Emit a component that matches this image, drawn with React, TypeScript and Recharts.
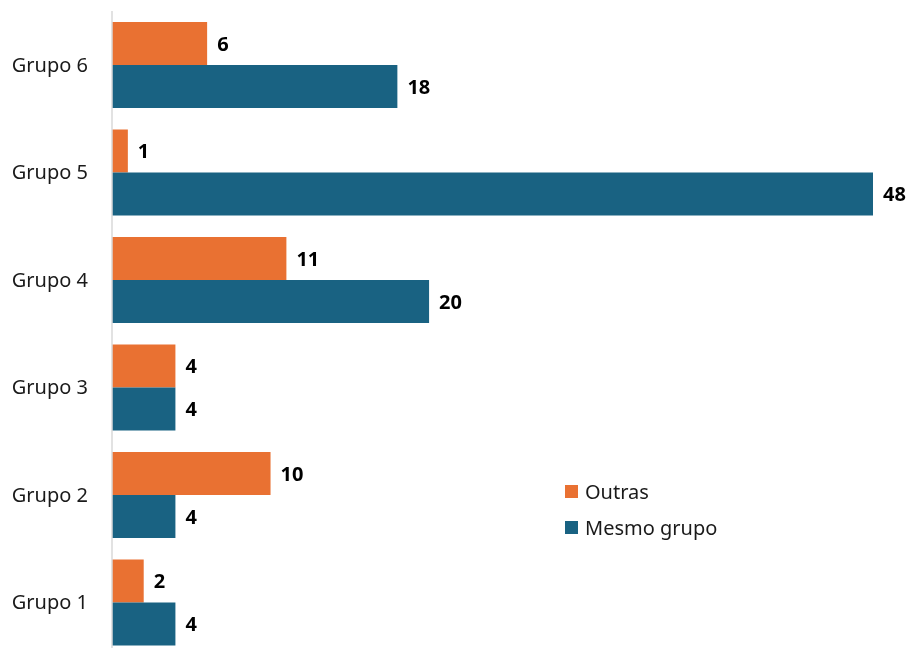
import { BarChart, Bar, XAxis, YAxis, LabelList } from "recharts";

const groups = ["Grupo 6", "Grupo 5", "Grupo 4", "Grupo 3", "Grupo 2", "Grupo 1"];
const outras = [6, 1, 11, 4, 10, 2];
const mesmoGrupo = [18, 48, 20, 4, 4, 4];

const ORANGE = "#E97132";
const BLUE = "#196282";
const FONT = "'Noto Sans', sans-serif";

const data = groups.map((g, i) => ({
  grupo: g,
  outras: outras[i],
  mesmo: mesmoGrupo[i],
}));

const legendItems = [
  { label: "Outras", color: ORANGE },
  { label: "Mesmo grupo", color: BLUE },
];

function LegendBox() {
  return (
    <div
      style={{
        position: "absolute",
        left: 557,
        top: 465,
        fontFamily: FONT,
        fontSize: 20,
        color: "#1a1a1a",
      }}
    >
      {legendItems.map((it) => (
        <div
          key={it.label}
          style={{ display: "flex", alignItems: "center", height: 36 }}
        >
          <span
            style={{
              width: 13,
              height: 13,
              background: it.color,
              marginRight: 7,
              display: "inline-block",
            }}
          />
          {it.label}
        </div>
      ))}
    </div>
  );
}

export default function App() {
  // fixed so the chart running to the bottom edge does not add a scrollbar
  return (
    <div
      style={{
        position: "fixed",
        left: 8,
        top: 8,
        width: 903,
        height: 640,
        overflow: "hidden",
      }}
    >
      <BarChart
        width={903}
        height={648}
        data={data}
        layout="vertical"
        margin={{ top: 3, right: 38, bottom: 0, left: 0 }}
        barGap={0}
      >
        <XAxis type="number" domain={[0, 48]} hide />
        <YAxis
          type="category"
          dataKey="grupo"
          width={104}
          tickLine={false}
          tickMargin={18}
          axisLine={{ stroke: "#d9d9d9", strokeWidth: 1.5 }}
          tick={{ fill: "#1a1a1a", fontSize: 20, fontFamily: FONT }}
        />
        <Bar dataKey="outras" name="Outras" fill={ORANGE} barSize={43} isAnimationActive={false}>
          <LabelList
            dataKey="outras"
            position="right"
            offset={10}
            style={{ fill: "#000", fontSize: 20, fontWeight: 700, fontFamily: FONT }}
          />
        </Bar>
        <Bar dataKey="mesmo" name="Mesmo grupo" fill={BLUE} barSize={43} isAnimationActive={false}>
          <LabelList
            dataKey="mesmo"
            position="right"
            offset={10}
            style={{ fill: "#000", fontSize: 20, fontWeight: 700, fontFamily: FONT }}
          />
        </Bar>
      </BarChart>
      <LegendBox />
    </div>
  );
}
